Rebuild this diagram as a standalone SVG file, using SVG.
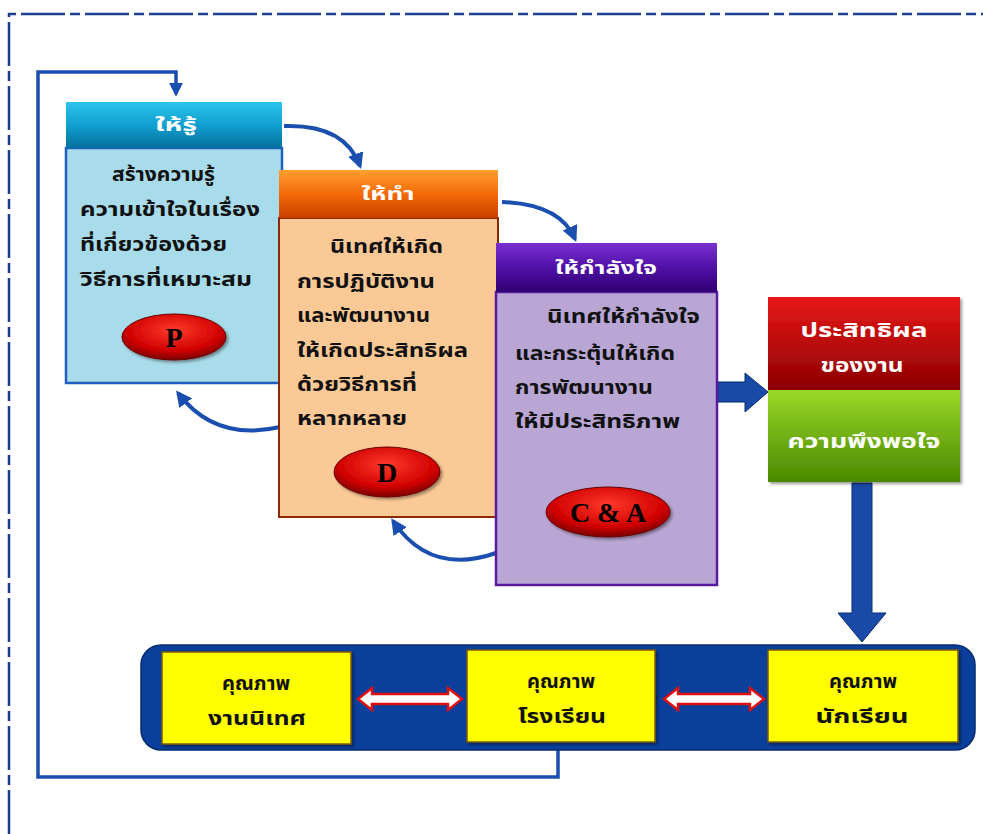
<svg xmlns="http://www.w3.org/2000/svg" width="983" height="834" viewBox="0 0 983 834">
<defs>
<linearGradient id="gTeal" x1="0" y1="0" x2="0" y2="1"><stop offset="0" stop-color="#2cc4ec"/><stop offset="0.5" stop-color="#10a0d0"/><stop offset="1" stop-color="#05709e"/></linearGradient>
<linearGradient id="gOrange" x1="0" y1="0" x2="0" y2="1"><stop offset="0" stop-color="#ffa030"/><stop offset="0.5" stop-color="#f46a08"/><stop offset="1" stop-color="#c84000"/></linearGradient>
<linearGradient id="gPurple" x1="0" y1="0" x2="0" y2="1"><stop offset="0" stop-color="#7a30d0"/><stop offset="0.5" stop-color="#5010a8"/><stop offset="1" stop-color="#300070"/></linearGradient>
<linearGradient id="gRed" x1="0" y1="0" x2="0" y2="1"><stop offset="0" stop-color="#e81818"/><stop offset="1" stop-color="#8c0000"/></linearGradient>
<linearGradient id="gGreen" x1="0" y1="0" x2="0" y2="1"><stop offset="0" stop-color="#9ad828"/><stop offset="1" stop-color="#4a8800"/></linearGradient>
<radialGradient id="gBall" cx="0.5" cy="0.35" r="0.65"><stop offset="0" stop-color="#ff3a2a"/><stop offset="0.7" stop-color="#d00000"/><stop offset="1" stop-color="#7a0000"/></radialGradient>
<marker id="ah" viewBox="0 0 10 10" refX="8" refY="5" markerWidth="4" markerHeight="4" orient="auto"><path d="M0,0 L10,5 L0,10 z" fill="#1a4fb0"/></marker>
<filter id="sh" x="-10%" y="-10%" width="130%" height="130%"><feDropShadow dx="2" dy="2" stdDeviation="1.5" flood-color="#000" flood-opacity="0.4"/></filter>
</defs>
<style>
.th{font-family:"Noto Sans Thai","Noto Sans","Tahoma",sans-serif;font-weight:bold;}
.body{font-size:19px;fill:#111;}
.hd{font-size:17px;fill:#fff;text-anchor:middle;}
.wt{font-size:20px;fill:#fff;text-anchor:middle;}
.yt{font-size:20px;fill:#111;text-anchor:middle;}
.ball{font-family:"Liberation Serif",serif;font-weight:bold;font-size:28px;fill:#000;text-anchor:middle;}
.conn{fill:none;stroke:#1a4fb0;stroke-width:4;}
.loop{fill:none;stroke:#1a4fb0;stroke-width:3.5;}
</style>
<rect x="0" y="0" width="983" height="834" fill="#ffffff"/>
<path d="M9 834 V14 H983" fill="none" stroke="#1a3f8c" stroke-width="2.5" stroke-dasharray="44 5 10 5"/>

<g id="connectors">
<path class="loop" d="M558 750 V777 H38 V72 H176 V94" marker-end="url(#ah)"/>
<path class="conn" d="M284 126 Q345 124 360 166" marker-end="url(#ah)"/>
<path class="conn" d="M502 202 Q560 204 575 239" marker-end="url(#ah)"/>
<path class="conn" d="M280 427 Q215 442 178 393" marker-end="url(#ah)"/>
<path class="conn" d="M496 553 Q430 576 393 521" marker-end="url(#ah)"/>
<path d="M718 382 H745 V373 L768 392 L745 412 V402 H718 Z" fill="#1a4aa8" stroke="#0a2a70" stroke-width="1"/>
<path d="M852 483 V613 H838 L862 642 L886 613 H872 V483 Z" fill="#1a4aa8" stroke="#0a2a70" stroke-width="1"/>
</g>

<g id="node-learn">
<rect x="66" y="148" width="216" height="235" fill="#a9dcea" stroke="#1f5fc0" stroke-width="2.5"/>
<rect x="66" y="102" width="216" height="46" fill="url(#gTeal)"/>
<text class="th hd" x="176" y="131" textLength="42" lengthAdjust="spacingAndGlyphs">ให้รู้</text>
<text class="th body" x="112" y="181" textLength="103" lengthAdjust="spacingAndGlyphs">สร้างความรู้</text>
<text class="th body" x="80" y="216" textLength="180" lengthAdjust="spacingAndGlyphs">ความเข้าใจในเรื่อง</text>
<text class="th body" x="80" y="251" textLength="147" lengthAdjust="spacingAndGlyphs">ที่เกี่ยวข้องด้วย</text>
<text class="th body" x="80" y="286" textLength="172" lengthAdjust="spacingAndGlyphs">วิธีการที่เหมาะสม</text>
<ellipse cx="174" cy="337" rx="52" ry="23" fill="url(#gBall)" stroke="#6a0000" stroke-width="1" filter="url(#sh)"/>
<text class="ball" x="174" y="347">P</text>
</g>

<g id="node-do">
<rect x="279" y="218" width="219" height="299" fill="#fbc995" stroke="#8b2a00" stroke-width="2"/>
<rect x="279" y="170" width="219" height="48" fill="url(#gOrange)"/>
<text class="th hd" x="388" y="200" textLength="53" lengthAdjust="spacingAndGlyphs">ให้ทำ</text>
<text class="th body" x="330" y="253" textLength="113" lengthAdjust="spacingAndGlyphs">นิเทศให้เกิด</text>
<text class="th body" x="297" y="288" textLength="138" lengthAdjust="spacingAndGlyphs">การปฏิบัติงาน</text>
<text class="th body" x="297" y="322" textLength="133" lengthAdjust="spacingAndGlyphs">และพัฒนางาน</text>
<text class="th body" x="297" y="357" textLength="171" lengthAdjust="spacingAndGlyphs">ให้เกิดประสิทธิผล</text>
<text class="th body" x="297" y="391" textLength="120" lengthAdjust="spacingAndGlyphs">ด้วยวิธีการที่</text>
<text class="th body" x="297" y="425" textLength="110" lengthAdjust="spacingAndGlyphs">หลากหลาย</text>
<ellipse cx="387" cy="472" rx="53" ry="25" fill="url(#gBall)" stroke="#6a0000" stroke-width="1" filter="url(#sh)"/>
<text class="ball" x="387" y="482">D</text>
</g>

<g id="node-encourage">
<rect x="496" y="292" width="221" height="293" fill="#b9a6d4" stroke="#5a1aa0" stroke-width="2.5"/>
<rect x="496" y="243" width="221" height="49" fill="url(#gPurple)"/>
<text class="th hd" x="606" y="274" textLength="102" lengthAdjust="spacingAndGlyphs">ให้กำลังใจ</text>
<text class="th body" x="547" y="323" textLength="153" lengthAdjust="spacingAndGlyphs">นิเทศให้กำลังใจ</text>
<text class="th body" x="515" y="360" textLength="160" lengthAdjust="spacingAndGlyphs">และกระตุ้นให้เกิด</text>
<text class="th body" x="515" y="394" textLength="138" lengthAdjust="spacingAndGlyphs">การพัฒนางาน</text>
<text class="th body" x="515" y="428" textLength="165" lengthAdjust="spacingAndGlyphs">ให้มีประสิทธิภาพ</text>
<ellipse cx="608" cy="512" rx="62" ry="25" fill="url(#gBall)" stroke="#6a0000" stroke-width="1" filter="url(#sh)"/>
<text class="ball" x="608" y="522">C &amp; A</text>
</g>

<g id="node-effect">
<rect x="768" y="297" width="192" height="93" fill="url(#gRed)" filter="url(#sh)"/>
<text class="th wt" x="864" y="337" textLength="127" lengthAdjust="spacingAndGlyphs">ประสิทธิผล</text>
<text class="th wt" x="862" y="372" textLength="83" lengthAdjust="spacingAndGlyphs">ของงาน</text>
</g>

<g id="node-satisfaction">
<rect x="768" y="390" width="192" height="92" fill="url(#gGreen)" filter="url(#sh)"/>
<text class="th wt" x="864" y="448" textLength="153" lengthAdjust="spacingAndGlyphs">ความพึงพอใจ</text>
</g>

<g id="node-quality">
<rect x="141" y="645" width="834" height="105" rx="20" fill="#0a3f9c" stroke="#062a70" stroke-width="1.5"/>
<g id="node-q-supervision">
<rect x="162" y="652" width="189" height="92" fill="#ffff00" stroke="#7a5a00" stroke-width="1.5" filter="url(#sh)"/>
<text class="th yt" x="256" y="690" textLength="68" lengthAdjust="spacingAndGlyphs">คุณภาพ</text>
<text class="th yt" x="257" y="725" textLength="98" lengthAdjust="spacingAndGlyphs">งานนิเทศ</text>
</g>
<g id="node-q-school">
<rect x="467" y="650" width="188" height="92" fill="#ffff00" stroke="#7a5a00" stroke-width="1.5" filter="url(#sh)"/>
<text class="th yt" x="561" y="688" textLength="68" lengthAdjust="spacingAndGlyphs">คุณภาพ</text>
<text class="th yt" x="562" y="723" textLength="88" lengthAdjust="spacingAndGlyphs">โรงเรียน</text>
</g>
<g id="node-q-student">
<rect x="768" y="650" width="190" height="92" fill="#ffff00" stroke="#7a5a00" stroke-width="1.5" filter="url(#sh)"/>
<text class="th yt" x="863" y="688" textLength="68" lengthAdjust="spacingAndGlyphs">คุณภาพ</text>
<text class="th yt" x="862" y="723" textLength="93" lengthAdjust="spacingAndGlyphs">นักเรียน</text>
</g>
<path d="M358 699 L372 688 V694 H448 V688 L462 699 L448 710 V704 H372 V710 Z" fill="#ffffff" stroke="#e01010" stroke-width="2.5"/>
<path d="M664 699 L678 688 V694 H750 V688 L764 699 L750 710 V704 H678 V710 Z" fill="#ffffff" stroke="#e01010" stroke-width="2.5"/>
</g>
</svg>
